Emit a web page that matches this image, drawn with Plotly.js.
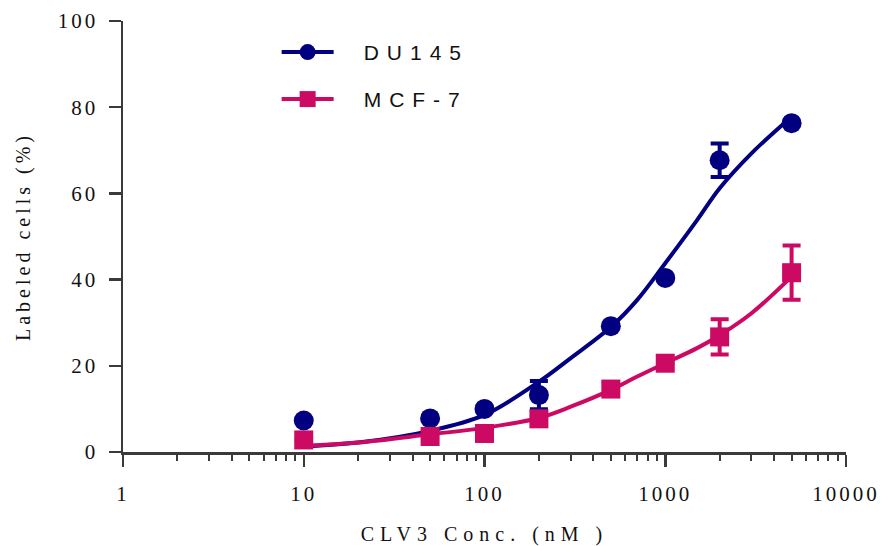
<!DOCTYPE html>
<html>
<head>
<meta charset="utf-8">
<script src="https://cdn.plot.ly/plotly-3.0.1.min.js"></script>
<style>
  html, body { margin: 0; padding: 0; background: #fff; }
  #chart { width: 885px; height: 546px; }
</style>
</head>
<body>
<div id="chart"></div>
<script>
// Measured points (concentration in nM, % labeled cells)
var conc = [10, 50, 100, 200, 500, 1000, 2000, 5000];
var du145 = [7.3, 7.8, 10.0, 13.2, 29.2, 40.4, 67.7, 76.3];
var du145Err = [0, 0, 0, 3.3, 0, 0, 3.9, 0];
var mcf7 = [2.8, 3.6, 4.3, 7.7, 14.6, 20.6, 26.7, 41.6];
var mcf7Err = [0, 0, 0, 0, 1.5, 0, 4.1, 6.3];

// Fitted curves
var fitConc = [10, 20, 50, 100, 200, 300, 500, 700, 1000, 1500, 2000, 3000, 5000];
var du145Fit = [1.3, 2.2, 4.9, 8.6, 16.3, 21.8, 29.0, 35.3, 43.8, 53.8, 61.2, 69.3, 77.8];
var mcf7Fit = [1.4, 2.2, 4.1, 5.6, 7.9, 10.5, 14.4, 17.5, 20.6, 24.1, 27.1, 32.2, 40.7];

var xTickVals = [1, 10, 100, 1000, 10000];
var xTickText = ['1', '10', '100', '1000', '10000'];
var seriesNames = ['DU145', 'MCF-7'];

var navy = '#020080';
var pink = '#CC0A63';
var axisColor = '#3a3a3a';
var serif = 'Liberation Serif';
var sans = 'Liberation Sans';

var traces = [
  { x: fitConc, y: du145Fit, type: 'scatter', mode: 'lines', line: {color: navy, width: 4, shape: 'spline', smoothing: 1}, showlegend: false, hoverinfo: 'skip' },
  { x: fitConc, y: mcf7Fit, type: 'scatter', mode: 'lines', line: {color: pink, width: 4, shape: 'spline', smoothing: 1}, showlegend: false, hoverinfo: 'skip' },
  { x: conc, y: du145, type: 'scatter', mode: 'markers', marker: {symbol: 'circle', size: 20, color: navy},
    error_y: {type: 'data', array: du145Err, visible: true, color: navy, thickness: 4, width: 9}, showlegend: false },
  { x: conc, y: mcf7, type: 'scatter', mode: 'markers', marker: {symbol: 'square', size: 19, color: pink},
    error_y: {type: 'data', array: mcf7Err, visible: true, color: pink, thickness: 4, width: 9}, showlegend: false },
  { x: [null], y: [null], type: 'scatter', mode: 'lines+markers', name: seriesNames[0], line: {color: navy, width: 4}, marker: {symbol: 'circle', size: 20, color: navy}, legend: 'legend' },
  { x: [null], y: [null], type: 'scatter', mode: 'lines+markers', name: seriesNames[1], line: {color: pink, width: 4}, marker: {symbol: 'square', size: 19, color: pink}, legend: 'legend2' }
];

var legendFont = {family: sans, size: 21, color: '#111'};

var layout = {
  width: 885, height: 546,
  margin: {l: 123, r: 39, t: 21, b: 94},
  paper_bgcolor: '#fff', plot_bgcolor: '#fff',
  font: {family: serif, color: '#111'},
  xaxis: {
    type: 'log', range: [0, 4],
    tickmode: 'array', tickvals: xTickVals, ticktext: xTickText,
    ticks: 'outside', ticklen: 12, tickwidth: 2.5, tickcolor: axisColor,
    showline: true, linecolor: axisColor, linewidth: 2.5,
    showgrid: false, zeroline: false,
    tickfont: {family: serif, size: 21, color: '#111'},
    ticklabelstandoff: 9,
    minor: {ticks: 'outside', ticklen: 6, tickwidth: 2, tickcolor: axisColor, dtick: 'D1', showgrid: false},
    title: {text: 'CLV3 Conc. (nM )', font: {family: serif, size: 20, color: '#111'}, standoff: 23}
  },
  yaxis: {
    range: [0, 100], dtick: 20,
    ticks: 'outside', ticklen: 12, tickwidth: 2.5, tickcolor: axisColor,
    showline: true, linecolor: axisColor, linewidth: 2.5,
    showgrid: false, zeroline: false,
    tickfont: {family: serif, size: 21, color: '#111'},
    ticklabelstandoff: 6,
    title: {text: 'Labeled cells (%)', font: {family: serif, size: 20, color: '#111'}, standoff: 31}
  },
  legend: {x: 0.2125, y: 0.927, xanchor: 'left', yanchor: 'middle', font: legendFont, bgcolor: 'rgba(0,0,0,0)', itemwidth: 52},
  legend2: {x: 0.2125, y: 0.818, xanchor: 'left', yanchor: 'middle', font: legendFont, bgcolor: 'rgba(0,0,0,0)', itemwidth: 52},
  showlegend: true
};

function spaceEl(t, px) {
  t.setAttribute('letter-spacing', px + 'px');
  t.style.letterSpacing = px + 'px';
}

Plotly.newPlot('chart', traces, layout, {displayModeBar: false, staticPlot: true}).then(function () {
  document.querySelectorAll('.xtick text, .ytick text').forEach(function (t) { spaceEl(t, 3); });
  document.querySelectorAll('.g-xtitle text').forEach(function (t) { spaceEl(t, 6); });
  document.querySelectorAll('.g-ytitle text').forEach(function (t) { spaceEl(t, 4); });
  // legend entries: wider letter spacing, shifted right, and no clipping
  document.querySelectorAll('.infolayer text').forEach(function (t) {
    if (seriesNames.indexOf(t.textContent.trim()) >= 0) {
      spaceEl(t, 8);
      var x0 = parseFloat(t.getAttribute('x')) || 0;
      t.setAttribute('x', x0 + 25);
      var p = t.parentNode;
      while (p && p.tagName && p.tagName.toLowerCase() !== 'svg') {
        if (p.hasAttribute && p.hasAttribute('clip-path')) p.removeAttribute('clip-path');
        p = p.parentNode;
      }
    }
  });
});
</script>
</body>
</html>
